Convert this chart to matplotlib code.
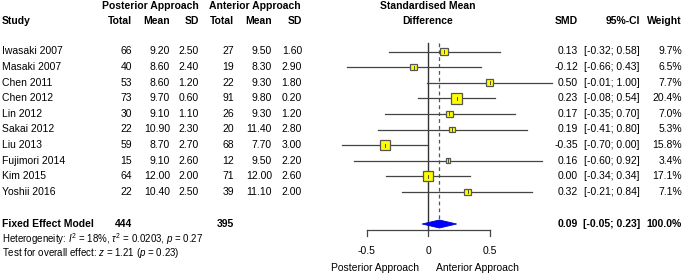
import numpy as np
import matplotlib.pyplot as plt
from matplotlib.patches import Rectangle, Polygon

plt.rcParams['font.family'] = ['Liberation Sans', 'DejaVu Sans']
plt.rcParams['mathtext.fontset'] = 'custom'
plt.rcParams['mathtext.rm'] = 'Liberation Sans'
plt.rcParams['mathtext.it'] = 'Liberation Sans:italic'

# data
studies = ['Iwasaki 2007', 'Masaki 2007', 'Chen 2011', 'Chen 2012', 'Lin 2012',
           'Sakai 2012', 'Liu 2013', 'Fujimori 2014', 'Kim 2015', 'Yoshii 2016']
post_n = [66, 40, 53, 73, 30, 22, 59, 15, 64, 22]
post_mean = [9.20, 8.60, 8.60, 9.70, 9.10, 10.90, 8.70, 9.10, 12.00, 10.40]
post_sd = [2.50, 2.40, 1.20, 0.60, 1.10, 2.30, 2.70, 2.60, 2.00, 2.50]
ant_n = [27, 19, 22, 91, 26, 20, 68, 12, 71, 39]
ant_mean = [9.50, 8.30, 9.30, 9.80, 9.30, 11.40, 7.70, 9.50, 12.00, 11.10]
ant_sd = [1.60, 2.90, 1.80, 0.20, 1.20, 2.80, 3.00, 2.20, 2.60, 2.00]
smd = [0.13, -0.12, 0.50, 0.23, 0.17, 0.19, -0.35, 0.16, 0.00, 0.32]
ci_lo = [-0.32, -0.66, -0.01, -0.08, -0.35, -0.41, -0.70, -0.60, -0.34, -0.21]
ci_hi = [0.58, 0.43, 1.00, 0.54, 0.70, 0.80, 0.00, 0.92, 0.34, 0.84]
weight = [9.7, 6.5, 7.7, 20.4, 7.0, 5.3, 15.8, 3.4, 17.1, 7.1]
fe_smd, fe_lo, fe_hi = 0.09, -0.05, 0.23
fe_post_n, fe_ant_n = 444, 395

W, H = 685, 277
fig = plt.figure(figsize=(W / 100, H / 100), dpi=100)

# text layer in pixel coordinates
tx = fig.add_axes([0, 0, 1, 1])
tx.set_xlim(0, W)
tx.set_ylim(H, 0)
tx.axis('off')

# forest layer: x in SMD units, y in pixels
px_per_unit = 123.2
x0 = 428.3
fx = fig.add_axes([0, 0, 1, 1])
fx.set_xlim(-x0 / px_per_unit, (W - x0) / px_per_unit)
fx.set_ylim(H, 0)
fx.axis('off')
fx.patch.set_alpha(0)

fs = 7.5
row_y = [51.5 + 15.6 * i for i in range(len(studies))]
fe_y = 224

# headers
tx.text(150, 6, 'Posterior Approach', fontsize=fs, fontweight='bold', ha='center', va='center')
tx.text(255, 6, 'Anterior Approach', fontsize=fs, fontweight='bold', ha='center', va='center')
tx.text(428, 6, 'Standardised Mean', fontsize=fs, fontweight='bold', ha='center', va='center')
tx.text(428, 21.5, 'Difference', fontsize=fs, fontweight='bold', ha='center', va='center')
tx.text(2, 21.5, 'Study', fontsize=fs, fontweight='bold', ha='left', va='center')
for x, lab in [(132, 'Total'), (170, 'Mean'), (199, 'SD'),
               (234, 'Total'), (272, 'Mean'), (302, 'SD'),
               (578, 'SMD'), (640, '95%-CI'), (682, 'Weight')]:
    tx.text(x, 21.5, lab, fontsize=fs, fontweight='bold', ha='right', va='center')

# study rows
for i, y in enumerate(row_y):
    tx.text(2, y, studies[i], fontsize=fs, ha='left', va='center')
    tx.text(132, y, f'{post_n[i]}', fontsize=fs, ha='right', va='center')
    tx.text(170, y, f'{post_mean[i]:.2f}', fontsize=fs, ha='right', va='center')
    tx.text(199, y, f'{post_sd[i]:.2f}', fontsize=fs, ha='right', va='center')
    tx.text(234, y, f'{ant_n[i]}', fontsize=fs, ha='right', va='center')
    tx.text(272, y, f'{ant_mean[i]:.2f}', fontsize=fs, ha='right', va='center')
    tx.text(302, y, f'{ant_sd[i]:.2f}', fontsize=fs, ha='right', va='center')
    tx.text(578, y, f'{smd[i]:.2f}', fontsize=fs, ha='right', va='center')
    tx.text(640, y, f'[{ci_lo[i]:.2f}; {ci_hi[i]:.2f}]', fontsize=fs, ha='right', va='center')
    tx.text(682, y, f'{weight[i]:.1f}%', fontsize=fs, ha='right', va='center')

    # CI line and box
    fx.plot([ci_lo[i], ci_hi[i]], [y, y], color='#444444', lw=0.9, zorder=2)
    side = 2.5 * np.sqrt(weight[i])
    fx.add_patch(Rectangle((smd[i] - side / 2 / px_per_unit, y - side / 2),
                           side / px_per_unit, side, facecolor='#ffff00',
                           edgecolor='#555555', lw=0.9, zorder=3))
    fx.plot([smd[i], smd[i]], [y - 1.5, y + 1.5], color='#333333', lw=0.6, zorder=4)

# fixed effect row
tx.text(2, fe_y, 'Fixed Effect Model', fontsize=fs, fontweight='bold', ha='left', va='center')
tx.text(132, fe_y, f'{fe_post_n}', fontsize=fs, fontweight='bold', ha='right', va='center')
tx.text(234, fe_y, f'{fe_ant_n}', fontsize=fs, fontweight='bold', ha='right', va='center')
tx.text(578, fe_y, f'{fe_smd:.2f}', fontsize=fs, fontweight='bold', ha='right', va='center')
tx.text(640, fe_y, f'[{fe_lo:.2f}; {fe_hi:.2f}]', fontsize=fs, fontweight='bold', ha='right', va='center')
tx.text(682, fe_y, '100.0%', fontsize=fs, fontweight='bold', ha='right', va='center')
tx.text(2, 239, r'Heterogeneity: $I^2$ = 18%, $\tau^2$ = 0.0203, $p$ = 0.27',
        fontsize=7, ha='left', va='center')
tx.text(2, 253, r'Test for overall effect: $z$ = 1.21 ($p$ = 0.23)',
        fontsize=7, ha='left', va='center')

fx.add_patch(Polygon([[fe_lo, fe_y], [fe_smd, fe_y - 4], [fe_hi, fe_y], [fe_smd, fe_y + 4]],
                     closed=True, facecolor='#0000ff', edgecolor='#0000cc', lw=0.6, zorder=3))

# reference lines
fx.plot([0, 0], [43, 230], color='#333333', lw=1.0, zorder=1)
fx.plot([fe_smd, fe_smd], [43, 219], color='#555555', lw=0.9, ls=(0, (3, 2.5)), zorder=1)

# x axis
ticks = [-0.5, 0, 0.5]
fx.plot([ticks[0], ticks[-1]], [230, 230], color='#444444', lw=0.9)
for t in ticks:
    fx.plot([t, t], [230, 236], color='#444444', lw=0.9)
    fx.text(t, 250.5, f'{t:g}', fontsize=fs, ha='center', va='center')
fx.text(-0.075, 268, 'Posterior Approach', fontsize=fs, ha='right', va='center')
fx.text(0.065, 268, 'Anterior Approach', fontsize=fs, ha='left', va='center')

fig.savefig('out.png', dpi=100)
